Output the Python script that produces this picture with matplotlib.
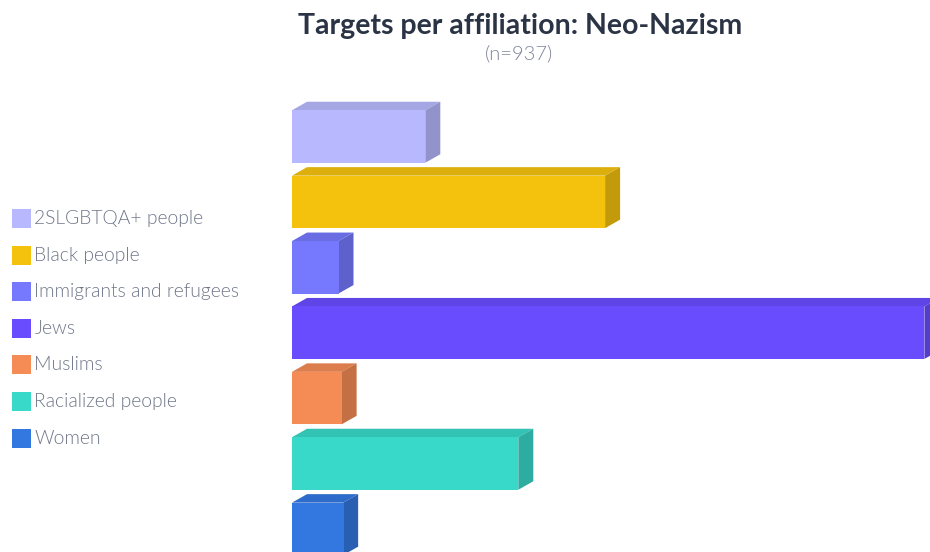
import matplotlib.pyplot as plt
from matplotlib.patches import Polygon, Rectangle

plt.rcParams["font.family"] = ["Lato", "DejaVu Sans"]

categories = [
    "2SLGBTQA+ people",
    "Black people",
    "Immigrants and refugees",
    "Jews",
    "Muslims",
    "Racialized people",
    "Women",
]
values = [86, 202, 30, 408, 32, 146, 33]

front_colors = ["#b7b8fd", "#f4c20d", "#7678fe", "#6a4cff", "#f58b55", "#38d9c9", "#3278e0"]
top_colors = ["#a5a6e4", "#dcaf0c", "#6a6ce4", "#5f44e6", "#dc7d4d", "#32c3b5", "#2d6cca"]
side_colors = ["#9293ca", "#c39b0a", "#5e60cb", "#553dcc", "#c46f44", "#2dada1", "#285fb3"]

W, H = 930, 552
fig = plt.figure(figsize=(W / 100, H / 100), dpi=100)

# axes pixel box: x 292..930, y 95..552
ax = fig.add_axes([292 / W, 0, 1 - 292 / W, (H - 95) / H])
px_per_unit = 1.55
pitch = 65.4
ax.set_xlim(0, (W - 292) / px_per_unit)
ax.set_ylim((552 - 136.5) / pitch, (95 - 136.5) / pitch)
ax.axis("off")

bar_h = 52.5 / pitch
dx = 15 / px_per_unit
dy = 8.5 / pitch

for i, v in enumerate(values):
    ax.barh(i, v, height=bar_h, color=front_colors[i], linewidth=0, zorder=3)
    t = i - bar_h / 2
    b = i + bar_h / 2
    ax.add_patch(Polygon([(0, t), (dx, t - dy), (v + dx, t - dy), (v, t)],
                         closed=True, color=top_colors[i], linewidth=0, zorder=2))
    ax.add_patch(Polygon([(v, t), (v + dx, t - dy), (v + dx, b - dy), (v, b)],
                         closed=True, color=side_colors[i], linewidth=0, zorder=2))

fig.text(520 / W, 1 - 26 / H, "Targets per affiliation: Neo-Nazism", ha="center", va="center",
         fontsize=20.5, fontweight="bold", color="#2b3445")
fig.text(519 / W, 1 - 54 / H, "(n=937)", ha="center", va="center",
         fontsize=14.5, fontweight=300, color="#7f849c")

# legend on the left
for i, name in enumerate(categories):
    yc = 218.5 + 36.6 * i
    fig.add_artist(Rectangle((12 / W, 1 - (yc + 9.5) / H), 19 / W, 19 / H,
                             transform=fig.transFigure, color=front_colors[i], linewidth=0))
    fig.text(34.5 / W, 1 - yc / H, name, ha="left", va="center",
             fontsize=13.9, fontweight=300, color="#6f7688")

fig.savefig("out.png", dpi=100)
